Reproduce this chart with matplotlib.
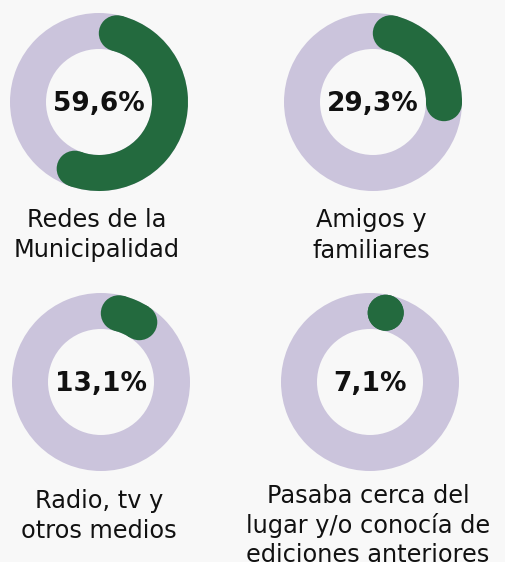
import math
import matplotlib.pyplot as plt
from matplotlib.patches import Wedge, Circle

# Data
labels = ["Redes de la\nMunicipalidad", "Amigos y\nfamiliares",
          "Radio, tv y\notros medios",
          "Pasaba cerca del\nlugar y/o conocía de\nediciones anteriores"]
values = [59.6, 29.3, 13.1, 7.1]

GREEN = "#236a3e"
LAVENDER = "#cbc4dc"
H = 562

# donut centres (pixels from top-left) and first label baseline
centers = [(99, 102), (373, 102), (101, 382), (370, 382)]
text_x = [97, 371, 99, 368]
text_y = [227, 227, 508, 503]
line_gap = [30.5, 30.5, 30, 29.5]

R_OUT = 89
WIDTH = 36
r_mid = R_OUT - WIDTH / 2

fig = plt.figure(figsize=(5.05, 5.62), dpi=100)
fig.patch.set_facecolor("#f8f8f8")
ax = fig.add_axes([0, 0, 1, 1])
ax.set_xlim(0, 505)
ax.set_ylim(0, H)
ax.set_aspect("equal")
ax.axis("off")

# angle taken up by a rounded end cap
cap = math.degrees((WIDTH / 2) / r_mid)

for (cx, cy), v, lab, tx, ty, gap in zip(centers, values, labels, text_x, text_y, line_gap):
    cy = H - cy
    ax.add_patch(Wedge((cx, cy), R_OUT, 0, 360, width=WIDTH, color=LAVENDER, lw=0))

    span = v / 100 * 360
    a0, a1 = cap, span - cap
    if a1 < a0:
        a0 = a1 = span / 2
    else:
        ax.add_patch(Wedge((cx, cy), R_OUT, 90 - a1, 90 - a0, width=WIDTH, color=GREEN, lw=0))
    for a in (a0, a1):
        t = math.radians(90 - a)
        ax.add_patch(Circle((cx + r_mid * math.cos(t), cy + r_mid * math.sin(t)),
                            WIDTH / 2, color=GREEN, lw=0))

    pct = f"{v:.1f}".replace(".", ",") + "%"
    ax.text(cx, cy + 1, pct, ha="center", va="center_baseline", fontsize=19,
            fontweight="bold", color="#111111")

    for i, line in enumerate(lab.split("\n")):
        ax.text(tx, H - (ty + i * gap), line, ha="center", va="baseline",
                fontsize=17.3, color="#111111")

fig.savefig("out.png", dpi=100, facecolor=fig.get_facecolor())
